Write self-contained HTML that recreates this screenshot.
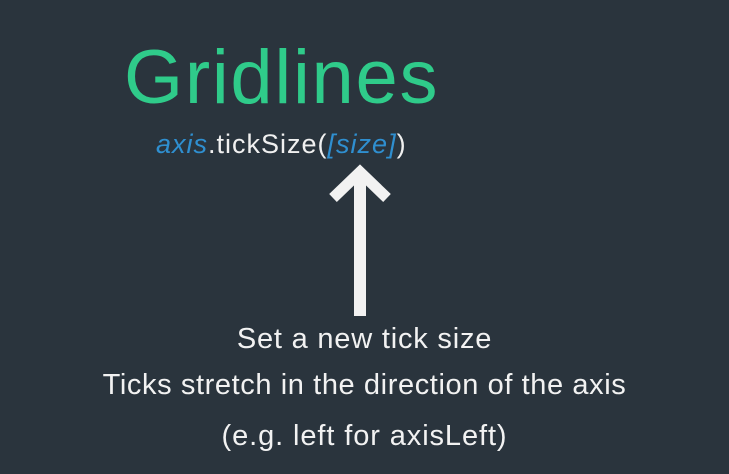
<!DOCTYPE html>
<html><head><style>
html,body{margin:0;padding:0;}
body{width:729px;height:474px;background:#2a343d;position:relative;overflow:hidden;font-family:"Liberation Sans",sans-serif;}
.t{position:absolute;white-space:nowrap;}
</style></head><body>
<div class="t" style="left:124px;top:34px;font-size:76px;color:#2fcb8a;letter-spacing:1.7px;">Gridlines</div>
<div class="t" style="left:156px;top:129px;font-size:27px;color:#f0f0f0;letter-spacing:1px;"><i style="color:#2f8fd0">axis</i>.tickSize(<i style="color:#2f8fd0">[size]</i>)</div>
<svg style="position:absolute;left:0;top:0" width="729" height="474">
<rect x="354" y="176" width="12" height="140" fill="#f2f2f2"/>
<polyline points="333,198 360,172 387,198" fill="none" stroke="#f2f2f2" stroke-width="11"/>
</svg>
<div class="t" style="left:0;width:729px;text-align:center;top:323px;font-size:29px;color:#f2f2f2;letter-spacing:0.8px;">Set a new tick size</div>
<div class="t" style="left:0;width:729px;text-align:center;top:369px;font-size:29px;color:#f2f2f2;letter-spacing:0.6px;">Ticks stretch in the direction of the axis</div>
<div class="t" style="left:0;width:729px;text-align:center;top:420px;font-size:29px;color:#f2f2f2;letter-spacing:0.9px;">(e.g. left for axisLeft)</div>
</body></html>
